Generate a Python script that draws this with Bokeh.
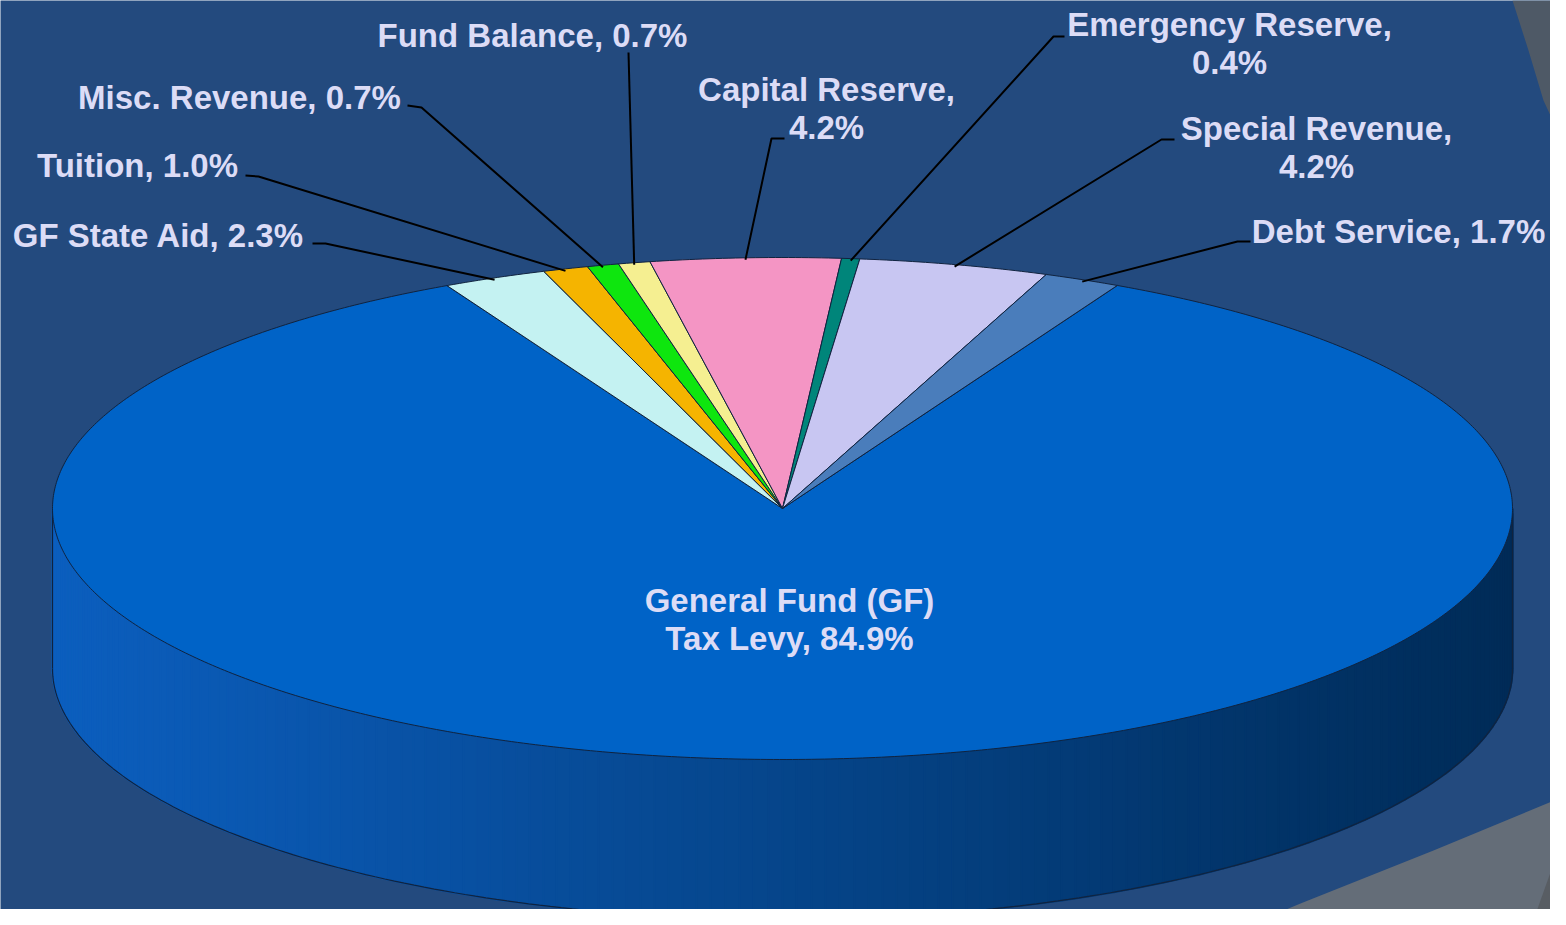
import numpy as np
from bokeh.plotting import figure
from bokeh.models import Range1d
from bokeh.core.properties import value
from bokeh.embed import file_html
from bokeh.resources import INLINE

# ---------------- data ----------------
categories = ["General Fund (GF)\nTax Levy", "GF State Aid", "Tuition", "Misc. Revenue",
              "Fund Balance", "Capital Reserve", "Emergency Reserve", "Special Revenue",
              "Debt Service"]
shares = [84.9, 2.3, 1.0, 0.7, 0.7, 4.2, 0.4, 4.2, 1.7]
colors = ["#0063c7", "#c4f2f2", "#f5b400", "#0ee60e", "#f5ef91", "#f495c4",
          "#00857a", "#c8c6f2", "#4a7dbb"]
value_on_new_line = [False, False, False, False, False, True, True, True, False]

# ---------------- layout ----------------
CX, CY, RX, RY, DEPTH = 782, 508, 730, 251, 160
FIRST_ANGLE = 27.3  # degrees clockwise from 12 o'clock
BG = "#234a7e"
TEXT_COLOR = "#dcdcf6"
EDGE = "#10233f"
FONT = "Liberation Sans"
FONT_SIZE = "33px"
LINE_GAP = 38

# label centre (x, y of first line's middle)
label_pos = [(789, 600), (158, 235), (137, 165), (239, 97), (532, 35),
             (826, 89), (1229, 24), (1316, 128), (1398, 231)]
leader_start = [None,
                [(312, 243), (325, 243)],
                [(245, 175), (258, 176)],
                [(407, 105), (421, 107)],
                [(628, 52)],
                [(784, 138), (771, 138)],
                [(1064, 36), (1053, 36)],
                [(1174, 139), (1161, 139)],
                [(1250, 241), (1237, 241)]]

p = figure(width=1550, height=909, x_range=Range1d(0, 1550), y_range=Range1d(909, 0),
           output_backend="svg", toolbar_location=None, min_border=0,
           background_fill_color=BG, border_fill_color=BG, outline_line_color=None)
p.axis.visible = False
p.grid.visible = False

# decorative slide shapes
p.patch([1512, 1528, 1543, 1556, 1566, 1566], [0, 50, 100, 128, 150, 0],
        fill_color="#4e5966", line_color=None)
p.patch([1240, 1300, 1433, 1566, 1566, 1240], [928, 903, 850, 795, 928, 928],
        fill_color="#646d78", line_color=None)
p.patch([1530, 1566, 1566], [928, 827, 928], fill_color="#585d63", line_color=None)


def pt(theta_deg, dy=0.0):
    t = np.radians(theta_deg)
    return CX + RX * np.cos(t), CY - RY * np.sin(t) + dy


total = float(sum(shares))
start = 90.0 - FIRST_ANGLE
bounds = []
acc = 0.0
for v in shares:
    a0 = start - acc * 360.0 / total
    a1 = a0 - v * 360.0 / total
    bounds.append((a0, a1))
    acc += v


def hex_to_rgb(h):
    h = h.lstrip("#")
    return tuple(int(h[i:i + 2], 16) for i in (0, 2, 4))


def slice_at(theta):
    for i, (a0, a1) in enumerate(bounds):
        th = theta
        while th > a0:
            th -= 360
        while th <= a1:
            th += 360
        if a1 < th <= a0:
            return i
    return 0


# side (front half) as shaded strips
n = 160
angles = np.linspace(180, 360, n + 1)
xs, ys, fills = [], [], []
for k in range(n):
    ta, tb = angles[k], angles[k + 1]
    xa, ya = pt(ta)
    xb, yb = pt(tb)
    xm = (xa + xb) / 2
    tt = (xm - (CX - RX)) / (2 * RX)
    shade = 0.96 - 0.52 * tt
    idx = slice_at((ta + tb) / 2)
    r, g, b = hex_to_rgb(colors[idx])
    c = "#%02x%02x%02x" % (min(255, int(r * shade + 12 * (1 - tt))),
                           min(255, int(g * shade)), min(255, int(b * shade)))
    xs.append([xa, xb, xb, xa])
    ys.append([ya, yb, yb + DEPTH, ya + DEPTH])
    fills.append(c)
p.patches(xs, ys, fill_color=fills, line_color=fills, line_width=2)

# side outline
arc = np.linspace(180, 360, 200)
bx, by = pt(arc, DEPTH)
p.line(list(bx), list(by), line_color=EDGE, line_width=1.2)
lx, ly = pt(180)
rx_, ry_ = pt(360)
p.line([lx, lx], [ly, ly + DEPTH], line_color=EDGE, line_width=1.2)
p.line([rx_, rx_], [ry_, ry_ + DEPTH], line_color=EDGE, line_width=1.2)

# top face slices
txs, tys = [], []
for (a0, a1) in bounds:
    m = max(3, int(abs(a0 - a1) * 2))
    th = np.linspace(a0, a1, m)
    ex, ey = pt(th)
    txs.append([CX] + list(ex))
    tys.append([CY] + list(ey))
p.patches(txs, tys, fill_color=colors, line_color=EDGE, line_width=1)

# leader lines
lxs, lys = [], []
for i, (a0, a1) in enumerate(bounds):
    if leader_start[i] is None:
        continue
    mid = (a0 + a1) / 2
    ex, ey = pt(mid, 2)
    pts = leader_start[i] + [(ex, ey)]
    lxs.append([q[0] for q in pts])
    lys.append([q[1] for q in pts])
p.multi_line(lxs, lys, line_color="#000000", line_width=2)

# labels
tx, ty, tt_ = [], [], []
for i, name in enumerate(categories):
    txt = name + (",\n" if value_on_new_line[i] else ", ") + f"{shares[i]:.1f}%"
    lines = txt.split("\n")
    x0, y0 = label_pos[i]
    for j, line in enumerate(lines):
        tx.append(x0)
        ty.append(y0 + j * LINE_GAP)
        tt_.append(line)
p.text(tx, ty, text=tt_, text_font=value(FONT), text_font_style="bold",
       text_font_size=FONT_SIZE, text_color=TEXT_COLOR, text_align="center",
       text_baseline="middle")

open("out.html", "w").write(file_html(p, INLINE))
